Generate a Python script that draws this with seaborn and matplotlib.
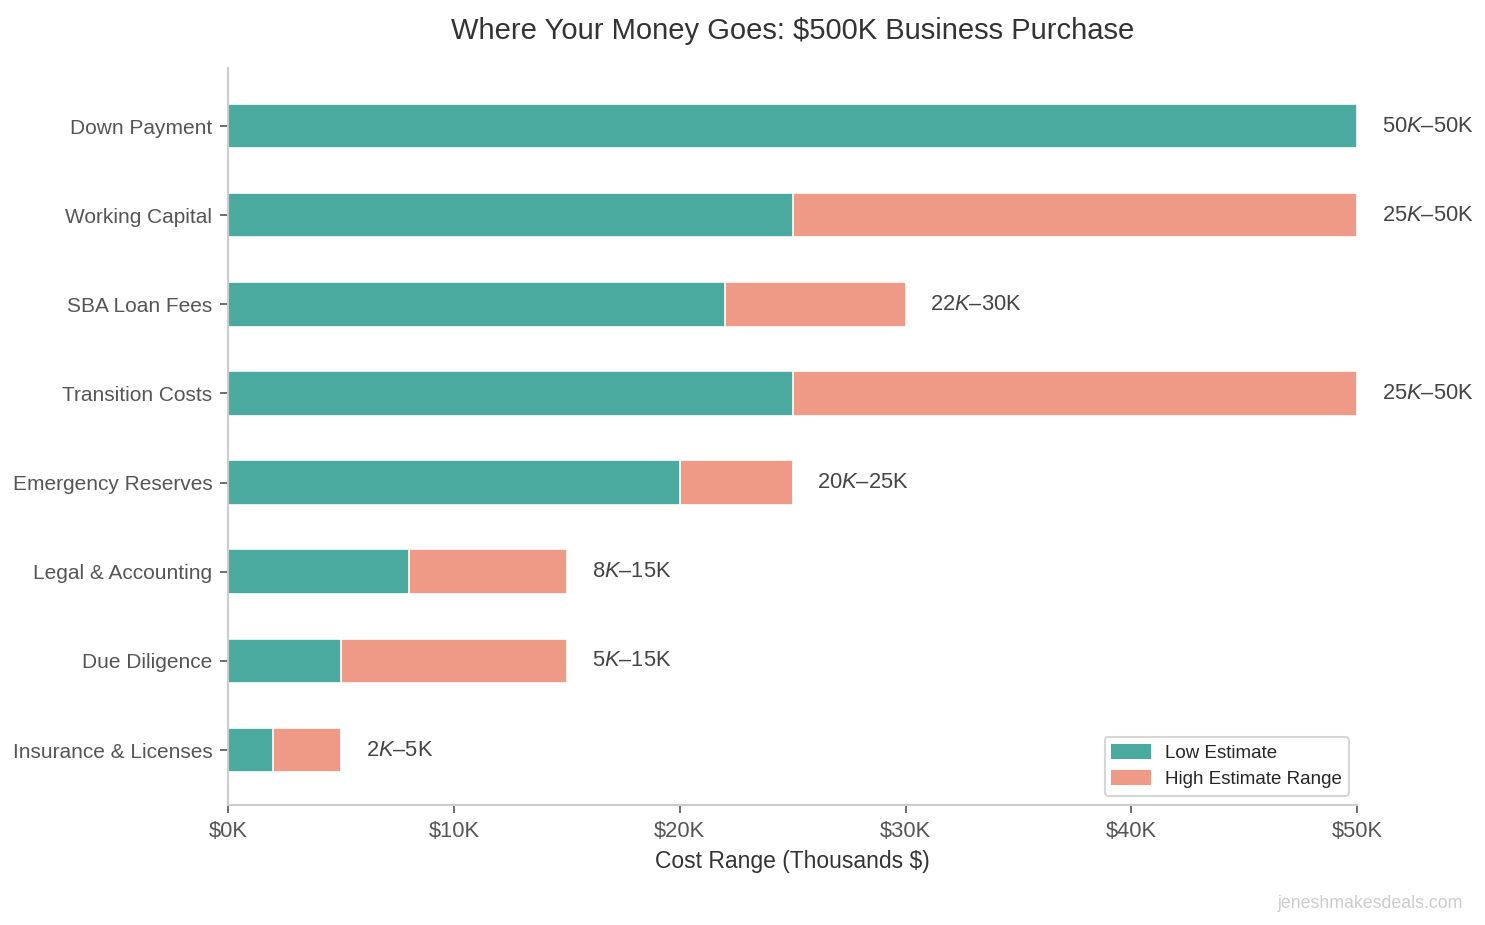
import matplotlib
matplotlib.use("Agg")
import matplotlib.pyplot as plt
import matplotlib.patches as mpatches
from matplotlib.ticker import FuncFormatter
import seaborn as sns
import pandas as pd

# cost items (thousands of $)
categories = ["Down Payment", "Working Capital", "SBA Loan Fees", "Transition Costs",
              "Emergency Reserves", "Legal & Accounting", "Due Diligence", "Insurance & Licenses"]
low_est = [50, 25, 22, 25, 20, 8, 5, 2]
high_est = [50, 50, 30, 50, 25, 15, 15, 5]

teal = "#4aaa9f"
salmon = "#ee9a86"

sns.set_theme(style="white")
plt.rcParams["font.family"] = ["Liberation Sans", "DejaVu Sans"]
plt.rcParams["mathtext.fontset"] = "custom"
plt.rcParams["mathtext.rm"] = "Liberation Sans"
plt.rcParams["mathtext.it"] = "Liberation Sans:italic"

df = pd.DataFrame({"item": categories, "low": low_est, "high": high_est})

fig = plt.figure(figsize=(9.9, 6.1667), dpi=150)
ax = fig.add_axes([0.1535, 0.1297, 0.7605, 0.7968])

# high range drawn full length, low estimate on top of it
sns.barplot(data=df, x="high", y="item", color=salmon, width=0.5, saturation=1,
            edgecolor="white", linewidth=0.8, ax=ax)
sns.barplot(data=df, x="low", y="item", color=teal, width=0.5, saturation=1,
            edgecolor="white", linewidth=0.8, ax=ax)

for i, (lo, hi) in enumerate(zip(low_est, high_est)):
    ax.text(hi + 1.1, i, f"${lo}K–${hi}K", va="center", ha="left", fontsize=10.5, color="#444444")

ax.set_xlim(0, 50)
ax.set_ylim(7.617, -0.651)
ax.set_xticks([0, 10, 20, 30, 40, 50])
ax.xaxis.set_major_formatter(FuncFormatter(lambda v, p: f"${int(v)}K"))
ax.set_xlabel("Cost Range (Thousands $)", fontsize=11, color="#333333")
ax.set_ylabel("")
ax.tick_params(axis="both", color="#555555", length=4, width=0.8, left=True, bottom=True,
               labelcolor="#555555")
ax.tick_params(axis="x", labelsize=10.5)
ax.tick_params(axis="y", labelsize=10)
sns.despine(ax=ax)
for s in ["left", "bottom"]:
    ax.spines[s].set_color("#cccccc")
    ax.spines[s].set_linewidth(1)

ax.set_title("Where Your Money Goes: $500K Business Purchase", pad=14,
             fontsize=14, color="#333333")

handles = [mpatches.Patch(color=teal, label="Low Estimate"),
           mpatches.Patch(color=salmon, label="High Estimate Range")]
ax.legend(handles=handles, loc="lower right", fontsize=9, frameon=True,
          edgecolor="#cccccc", fancybox=True, bbox_to_anchor=(1.001, 0.0))

fig.text(0.985, 0.014, "jeneshmakesdeals.com", ha="right", va="bottom",
         fontsize=8.5, color="#cccccc")

fig.savefig("out.png", dpi=150)
